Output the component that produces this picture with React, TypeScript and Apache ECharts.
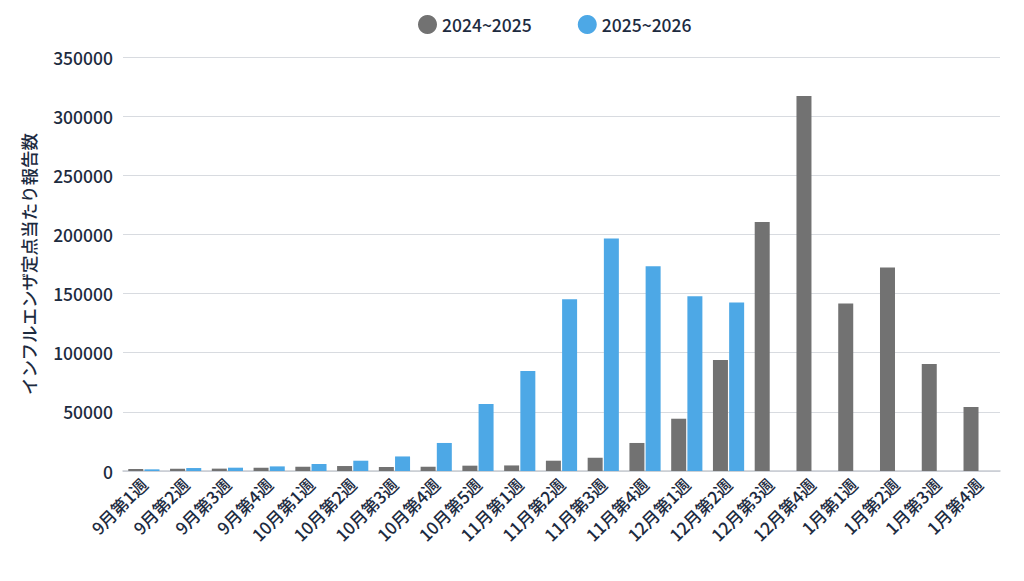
import React, { useEffect, useRef } from "react";
import * as echarts from "echarts";

const categories = [
  "9月第1週", "9月第2週", "9月第3週", "9月第4週",
  "10月第1週", "10月第2週", "10月第3週", "10月第4週", "10月第5週",
  "11月第1週", "11月第2週", "11月第3週", "11月第4週",
  "12月第1週", "12月第2週", "12月第3週", "12月第4週",
  "1月第1週", "1月第2週", "1月第3週", "1月第4週",
];

const season2024 = [
  1700, 1900, 2000, 2800, 3600, 4200, 3400, 3600, 4500, 4700, 8700, 11200,
  23700, 44200, 93800, 210500, 317000, 141600, 172000, 90500, 54200,
];

const season2025 = [
  1400, 2500, 2800, 3900, 5900, 8700, 12300, 23700, 56600, 84500, 145200,
  196500, 173000, 147700, 142400,
];

const seriesNames = ["2024~2025", "2025~2026"];
const yAxisName = "インフルエンザ定点当たり報告数";

const FONT = "'Noto Sans CJK JP', 'Noto Sans', sans-serif";
const TEXT = "#1d2b3f";
const W = 500;

export default function App() {
  const ref = useRef<HTMLDivElement>(null);
  useEffect(() => {
    if (!ref.current) return;
    const chart = echarts.init(ref.current, undefined, { renderer: "svg" });
    chart.setOption({
      animation: false,
      textStyle: { fontFamily: FONT, color: TEXT, fontWeight: W },
      legend: {
        top: 2,
        left: 405,
        icon: "circle",
        itemWidth: 19,
        itemHeight: 19,
        itemGap: 46,
        textStyle: { fontSize: 17.5, color: TEXT, fontFamily: FONT, fontWeight: W },
        data: seriesNames,
      },
      grid: { left: 115, right: 16, top: 49, bottom: 102 },
      xAxis: {
        type: "category",
        data: categories,
        axisLine: { lineStyle: { color: "#c8ccd2", width: 1.5 } },
        axisTick: { show: false },
        axisLabel: {
          rotate: 45,
          interval: 0,
          fontSize: 17,
          color: TEXT,
          fontFamily: FONT,
          fontWeight: W,
          margin: 10,
        },
      },
      yAxis: {
        type: "value",
        min: 0,
        max: 350000,
        interval: 50000,
        name: yAxisName,
        nameLocation: "middle",
        nameGap: 86,
        nameRotate: 90,
        nameTextStyle: { fontSize: 17.5, color: TEXT, fontFamily: FONT, fontWeight: W },
        axisLine: { show: false },
        axisTick: { show: false },
        axisLabel: {
          fontSize: 17.5,
          color: TEXT,
          fontFamily: FONT,
          fontWeight: W,
          margin: 10,
          formatter: (v: number) => String(v),
        },
        splitLine: { lineStyle: { color: "#d8dbe0", width: 1 } },
      },
      series: [
        {
          name: seriesNames[0],
          type: "bar",
          data: season2024,
          barWidth: 15,
          barGap: "8%",
          itemStyle: { color: "#727272" },
        },
        {
          name: seriesNames[1],
          type: "bar",
          data: season2025,
          barWidth: 15,
          itemStyle: { color: "#4da8e6" },
        },
      ],
    });
    return () => chart.dispose();
  }, []);
  return <div ref={ref} style={{ width: 1008, height: 565 }} />;
}
